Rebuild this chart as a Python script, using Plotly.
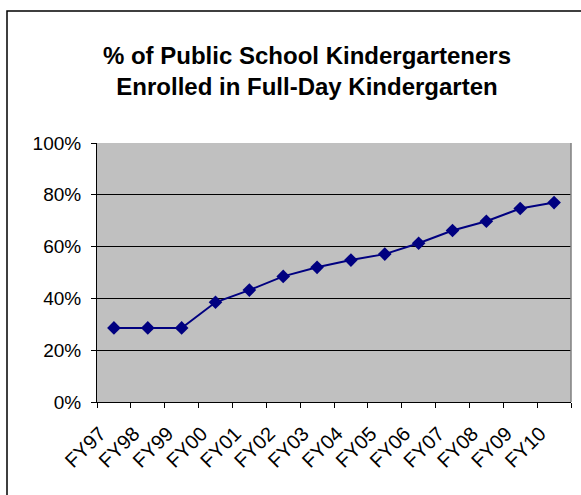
import plotly.graph_objects as go

categories = ["FY97", "FY98", "FY99", "FY00", "FY01", "FY02", "FY03",
              "FY04", "FY05", "FY06", "FY07", "FY08", "FY09", "FY10"]
values = [0.286, 0.286, 0.286, 0.385, 0.432, 0.485, 0.52,
          0.548, 0.571, 0.613, 0.662, 0.698, 0.747, 0.77]
y_ticks = [0, 0.2, 0.4, 0.6, 0.8, 1.0]
y_tick_text = ["0%", "20%", "40%", "60%", "80%", "100%"]
title_text = "% of Public School Kindergarteners<br>Enrolled in Full-Day Kindergarten"

W, H = 581, 495
L, R, T, B = 97, 10, 143, 93
pw, ph = W - L - R, H - T - B

font_family = "Arial, Liberation Sans, sans-serif"

fig = go.Figure()
fig.add_trace(go.Scatter(
    x=categories, y=values, mode="lines+markers",
    line=dict(color="#000080", width=2),
    marker=dict(symbol="diamond", size=10.5, color="#000080"),
    showlegend=False, hoverinfo="skip",
))

fig.update_layout(
    width=W, height=H,
    margin=dict(l=L, r=R, t=T, b=B, pad=0),
    paper_bgcolor="white",
    plot_bgcolor="#C0C0C0",
    font=dict(family=font_family, color="black", size=19),
    title=dict(
        text=title_text,
        font=dict(family=font_family, size=24, color="black", weight="bold"),
        x=307 / W, xref="container", xanchor="center",
        y=1 - 64 / H, yref="container", yanchor="top",
    ),
    xaxis=dict(
        type="category",
        range=[-0.5, len(categories) - 0.5],
        showline=True, linecolor="black", linewidth=1,
        ticks="outside", ticklen=5, tickcolor="black", tickwidth=1,
        tickson="boundaries",
        showgrid=False, zeroline=False,
        tickangle=-45,
        tickfont=dict(size=20),
        ticklabelshift=-14,
        ticklabelstandoff=11,
    ),
    yaxis=dict(
        range=[0, 1.0],
        tickvals=y_ticks, ticktext=y_tick_text,
        showline=True, linecolor="black", linewidth=1,
        ticks="outside", ticklen=5, tickcolor="black", tickwidth=1,
        showgrid=True, gridcolor="black", gridwidth=1,
        zeroline=False,
        tickfont=dict(size=19),
        ticklabelstandoff=6,
    ),
    shapes=[
        dict(type="line", xref="paper", yref="paper", x0=1, x1=1, y0=0, y1=1,
             line=dict(color="#808080", width=1.5)),
        dict(type="rect", xref="paper", yref="paper",
             x0=(7 - L) / pw, x1=(W + 40 - L) / pw,
             y0=-(H + 40 - (T + ph)) / ph, y1=(T + ph - 11) / ph,
             line=dict(color="black", width=1.5), fillcolor="rgba(0,0,0,0)"),
    ],
)

fig.write_html("out.html")
